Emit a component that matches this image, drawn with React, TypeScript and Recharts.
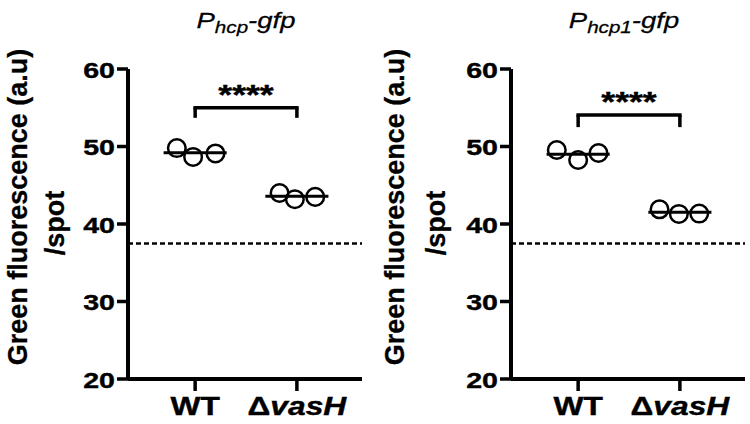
import React from "react";
import { ScatterChart, Scatter, XAxis, YAxis, ReferenceLine } from "recharts";

// categories and tick labels
const categories = ["WT", "ΔvasH"];
const yTicks = [20, 30, 40, 50, 60];
const titleSubs = ["hcp", "hcp1"];
const yLabelLines = ["Green fluorescence (a.u)", "/spot"];
const sigLabel = "****";

// P_hcp-gfp panel
const hcpWT = [49.8, 48.65, 49.1];
const hcpVasH = [44.0, 43.2, 43.5];
const hcpWTJitter = [-0.18, -0.02, 0.2];
const hcpVasHJitter = [-0.17, -0.02, 0.18];

// P_hcp1-gfp panel
const hcp1WT = [49.55, 48.26, 49.16];
const hcp1VasH = [41.9, 41.3, 41.35];
const hcp1WTJitter = [-0.21, 0, 0.2];
const hcp1VasHJitter = [-0.2, -0.01, 0.19];

// dashed background level and significance brackets
const backgroundLevel = 37.5;
const bracketTop = [55, 54.05];
const bracketLeg = [53.7, 52.5];

const FONT = '"Liberation Sans", Arial, Helvetica, sans-serif';
const SX = 1.27; // the fonts in the figure are wide
const MEAN_HALF = 0.31;

const toPoints = (vals: number[], jit: number[], cat: number) =>
  vals.map((v, i) => ({ x: cat + jit[i], y: v }));

const mean = (vals: number[]) => vals.reduce((a, b) => a + b, 0) / vals.length;

const YTick = (props: any) => {
  const { x, y, payload } = props;
  return (
    <g transform={`translate(${x},${y}) scale(${SX},1)`}>
      <text
        textAnchor="end"
        dy="0.38em"
        fontFamily={FONT}
        fontWeight="bold"
        fontSize={22.5}
        fill="#000"
        stroke="#000"
        strokeWidth={0.4}
      >
        {payload.value}
      </text>
    </g>
  );
};

const XTick = (props: any) => {
  const { x, y, payload } = props;
  const name = categories[Math.round(payload.value) - 1] || "";
  const isDelta = name.startsWith("Δ");
  return (
    <g transform={`translate(${x},${y}) scale(${SX},1)`}>
      <text
        textAnchor="middle"
        dy={20}
        fontFamily={FONT}
        fontWeight="bold"
        fontSize={25}
        fill="#000"
        stroke="#000"
        strokeWidth={0.4}
      >
        {isDelta ? (
          <>
            <tspan>Δ</tspan>
            <tspan fontStyle="italic">{name.slice(1)}</tspan>
          </>
        ) : (
          name
        )}
      </text>
    </g>
  );
};

const Ring = (props: any) => (
  <circle cx={props.cx} cy={props.cy} r={8.8} fill="none" stroke="#000" strokeWidth={2.5} />
);

const Stars = (props: any) => {
  const { viewBox } = props;
  if (!viewBox) return null;
  const cx = viewBox.x + viewBox.width / 2;
  return (
    <g transform={`translate(${cx},${viewBox.y - 4}) scale(${SX},1)`}>
      <text
        textAnchor="middle"
        fontFamily={FONT}
        fontWeight="bold"
        fontSize={28}
        fill="#000"
        stroke="#000"
        strokeWidth={0.4}
      >
        {sigLabel}
      </text>
    </g>
  );
};

const makeYLabel = (x1: number, x2: number) => () => (
  <g fontFamily={FONT} fontWeight="bold" fontSize={27} fill="#000" stroke="#000" strokeWidth={0.3}>
    <text transform={`translate(${x1},207) rotate(-90)`} textAnchor="middle" dy="0.3em">
      {yLabelLines[0]}
    </text>
    <text transform={`translate(${x2},223) rotate(-90)`} textAnchor="middle" dy="0.3em">
      {yLabelLines[1]}
    </text>
  </g>
);

interface PanelProps {
  left: number;
  sub: string;
  titleX: number;
  wt: number[];
  vasH: number[];
  wtJit: number[];
  vasHJit: number[];
  top: number;
  leg: number;
  marginLeft: number;
  marginRight: number;
  labelX1: number;
  labelX2: number;
}

const Panel = (p: PanelProps) => {
  const wtMean = mean(p.wt);
  const vasHMean = mean(p.vasH);
  return (
    <div style={{ position: "absolute", left: p.left, top: 0, width: 375, height: 424 }}>
      <ScatterChart
        width={375}
        height={424}
        margin={{ top: 69, right: p.marginRight, bottom: 15, left: p.marginLeft }}
      >
        <XAxis
          type="number"
          dataKey="x"
          domain={[0.34, 2.64]}
          ticks={[1, 2]}
          interval={0}
          height={30}
          tick={<XTick />}
          tickSize={12}
          tickMargin={4}
          axisLine={{ stroke: "#000", strokeWidth: 4 }}
          tickLine={{ stroke: "#000", strokeWidth: 3.5 }}
        />
        <YAxis
          type="number"
          dataKey="y"
          domain={[20, 60]}
          ticks={yTicks}
          interval={0}
          width={60}
          tick={<YTick />}
          tickSize={11}
          tickMargin={2}
          axisLine={{ stroke: "#000", strokeWidth: 4 }}
          tickLine={{ stroke: "#000", strokeWidth: 3.5 }}
          label={{ content: makeYLabel(p.labelX1, p.labelX2) }}
        />
        <ReferenceLine y={backgroundLevel} stroke="#000" strokeWidth={2.5} strokeDasharray="5 3" />
        <ReferenceLine
          segment={[{ x: 1 - MEAN_HALF, y: wtMean }, { x: 1 + MEAN_HALF, y: wtMean }]}
          stroke="#000"
          strokeWidth={3}
        />
        <ReferenceLine
          segment={[{ x: 2 - MEAN_HALF, y: vasHMean }, { x: 2 + MEAN_HALF, y: vasHMean }]}
          stroke="#000"
          strokeWidth={3}
        />
        <ReferenceLine
          segment={[{ x: 1, y: p.leg }, { x: 1, y: p.top }]}
          stroke="#000"
          strokeWidth={3.5}
        />
        <ReferenceLine
          segment={[{ x: 2, y: p.leg }, { x: 2, y: p.top }]}
          stroke="#000"
          strokeWidth={3.5}
        />
        <ReferenceLine
          segment={[{ x: 1, y: p.top }, { x: 2, y: p.top }]}
          stroke="#000"
          strokeWidth={3.5}
          strokeLinecap="square"
          label={{ content: <Stars /> }}
        />
        <Scatter data={toPoints(p.wt, p.wtJit, 1)} shape={<Ring />} isAnimationActive={false} />
        <Scatter data={toPoints(p.vasH, p.vasHJit, 2)} shape={<Ring />} isAnimationActive={false} />
      </ScatterChart>
      <svg
        width={375}
        height={60}
        style={{ position: "absolute", left: 0, top: 0, pointerEvents: "none" }}
      >
        <g transform={`translate(${p.titleX},28) scale(1.25,1)`}>
          <text
            textAnchor="middle"
            fontFamily={FONT}
            fontStyle="italic"
            fontSize={22}
            fill="#000"
            stroke="#000"
            strokeWidth={0.25}
          >
            P
            <tspan fontSize={16.5} dy={5}>
              {p.sub}
            </tspan>
            <tspan dy={-5}>-gfp</tspan>
          </text>
        </g>
      </svg>
    </div>
  );
};

export default function App() {
  return (
    <div
      style={{
        position: "absolute",
        left: 0,
        top: 0,
        width: 750,
        height: 424,
        background: "#fff",
        overflow: "hidden",
      }}
    >
      <Panel
        left={0}
        sub={titleSubs[0]}
        titleX={246}
        wt={hcpWT}
        vasH={hcpVasH}
        wtJit={hcpWTJitter}
        vasHJit={hcpVasHJitter}
        top={bracketTop[0]}
        leg={bracketLeg[0]}
        marginLeft={68}
        marginRight={13}
        labelX1={19}
        labelX2={56}
      />
      <Panel
        left={375}
        sub={titleSubs[1]}
        titleX={249}
        wt={hcp1WT}
        vasH={hcp1VasH}
        wtJit={hcp1WTJitter}
        vasHJit={hcp1VasHJitter}
        top={bracketTop[1]}
        leg={bracketLeg[1]}
        marginLeft={76}
        marginRight={5}
        labelX1={21}
        labelX2={62}
      />
    </div>
  );
}
